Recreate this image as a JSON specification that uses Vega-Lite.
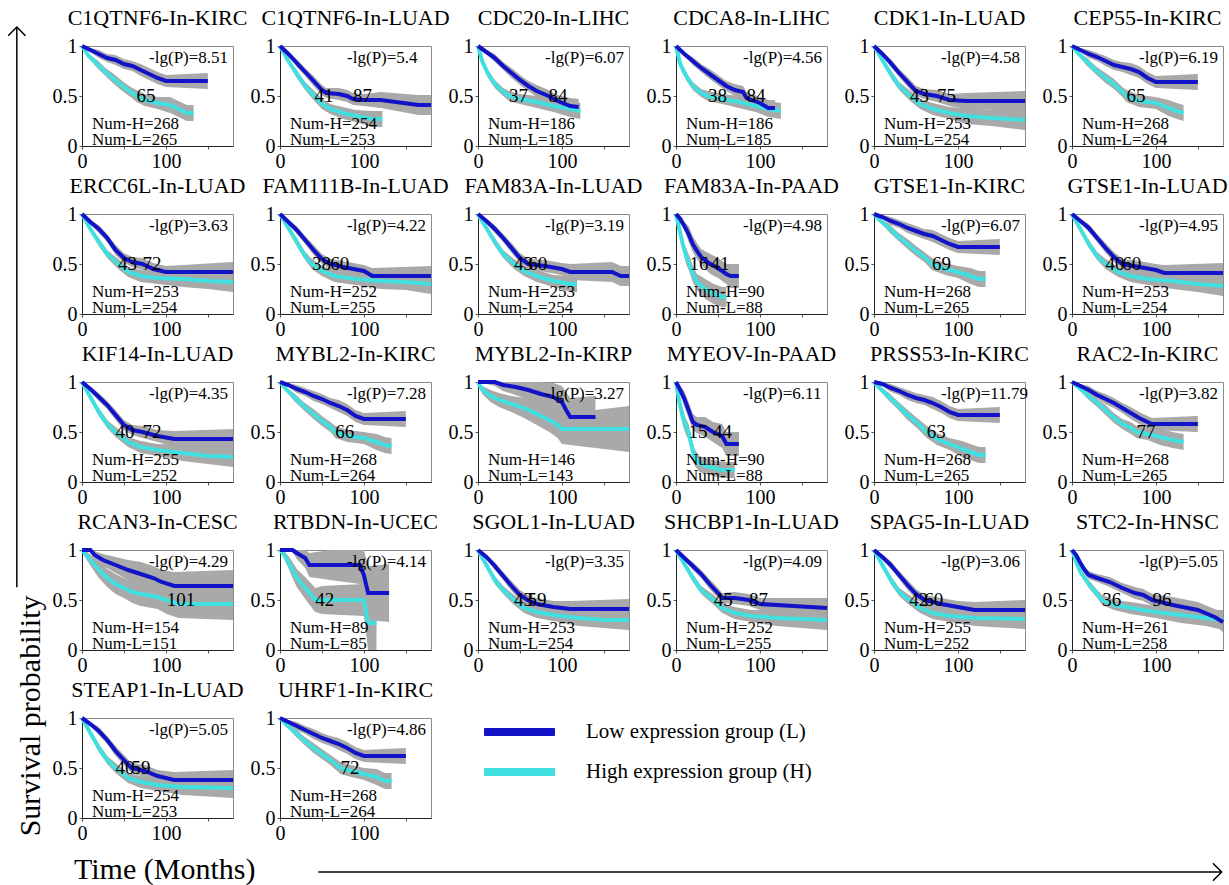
{
"$schema": "https://vega.github.io/schema/vega-lite/v6.json",
"padding": {"left": 0, "top": 6, "right": 0, "bottom": 0},
"background": "white",
"config": {"font": "Liberation Serif", "view": {"stroke": "#8a8a8a", "strokeWidth": 1},
 "axis": {"labelFont": "Liberation Serif", "labelFontSize": 20, "labelColor": "black", "domainColor": "#222", "tickColor": "#555", "grid": false, "labelFlush": false, "labelOverlap": false, "labelPadding": 2, "title": null}},
"datasets": {"km": [
{"p":"C1QTNF6-In-KIRC","lp":"-lg(P)=8.51","nh":"Num-H=268","nl":"Num-L=265"},
{"p":"C1QTNF6-In-KIRC","med":65},
{"p":"C1QTNF6-In-KIRC","g":"L","t":0,"s":1,"lo":1,"hi":1},
{"p":"C1QTNF6-In-KIRC","g":"L","t":10,"s":0.96,"lo":0.94,"hi":0.98},
{"p":"C1QTNF6-In-KIRC","g":"L","t":20,"s":0.92,"lo":0.88,"hi":0.96},
{"p":"C1QTNF6-In-KIRC","g":"L","t":30,"s":0.88,"lo":0.84,"hi":0.92},
{"p":"C1QTNF6-In-KIRC","g":"L","t":40,"s":0.86,"lo":0.81,"hi":0.91},
{"p":"C1QTNF6-In-KIRC","g":"L","t":50,"s":0.82,"lo":0.77,"hi":0.87},
{"p":"C1QTNF6-In-KIRC","g":"L","t":60,"s":0.8,"lo":0.75,"hi":0.85},
{"p":"C1QTNF6-In-KIRC","g":"L","t":70,"s":0.76,"lo":0.7,"hi":0.82},
{"p":"C1QTNF6-In-KIRC","g":"L","t":80,"s":0.72,"lo":0.66,"hi":0.78},
{"p":"C1QTNF6-In-KIRC","g":"L","t":90,"s":0.68,"lo":0.62,"hi":0.74},
{"p":"C1QTNF6-In-KIRC","g":"L","t":100,"s":0.65,"lo":0.59,"hi":0.71},
{"p":"C1QTNF6-In-KIRC","g":"L","t":150,"s":0.65,"lo":0.57,"hi":0.73},
{"p":"C1QTNF6-In-KIRC","g":"H","t":0,"s":1,"lo":1,"hi":1},
{"p":"C1QTNF6-In-KIRC","g":"H","t":8,"s":0.9,"lo":0.88,"hi":0.92},
{"p":"C1QTNF6-In-KIRC","g":"H","t":18,"s":0.82,"lo":0.78,"hi":0.86},
{"p":"C1QTNF6-In-KIRC","g":"H","t":28,"s":0.74,"lo":0.7,"hi":0.78},
{"p":"C1QTNF6-In-KIRC","g":"H","t":38,"s":0.67,"lo":0.62,"hi":0.72},
{"p":"C1QTNF6-In-KIRC","g":"H","t":48,"s":0.6,"lo":0.55,"hi":0.65},
{"p":"C1QTNF6-In-KIRC","g":"H","t":58,"s":0.54,"lo":0.49,"hi":0.59},
{"p":"C1QTNF6-In-KIRC","g":"H","t":65,"s":0.5,"lo":0.44,"hi":0.56},
{"p":"C1QTNF6-In-KIRC","g":"H","t":75,"s":0.46,"lo":0.4,"hi":0.52},
{"p":"C1QTNF6-In-KIRC","g":"H","t":90,"s":0.43,"lo":0.37,"hi":0.49},
{"p":"C1QTNF6-In-KIRC","g":"H","t":105,"s":0.41,"lo":0.33,"hi":0.49},
{"p":"C1QTNF6-In-KIRC","g":"H","t":115,"s":0.37,"lo":0.29,"hi":0.45},
{"p":"C1QTNF6-In-KIRC","g":"H","t":125,"s":0.33,"lo":0.25,"hi":0.41},
{"p":"C1QTNF6-In-KIRC","g":"H","t":133,"s":0.33,"lo":0.25,"hi":0.41},

{"p":"C1QTNF6-In-LUAD","lp":"-lg(P)=5.4","nh":"Num-H=254","nl":"Num-L=253"},
{"p":"C1QTNF6-In-LUAD","med":41},
{"p":"C1QTNF6-In-LUAD","med":87},
{"p":"C1QTNF6-In-LUAD","g":"L","t":0,"s":1,"lo":1,"hi":1},
{"p":"C1QTNF6-In-LUAD","g":"L","t":10,"s":0.92,"lo":0.9,"hi":0.94},
{"p":"C1QTNF6-In-LUAD","g":"L","t":20,"s":0.83,"lo":0.79,"hi":0.87},
{"p":"C1QTNF6-In-LUAD","g":"L","t":30,"s":0.74,"lo":0.7,"hi":0.78},
{"p":"C1QTNF6-In-LUAD","g":"L","t":40,"s":0.65,"lo":0.6,"hi":0.7},
{"p":"C1QTNF6-In-LUAD","g":"L","t":50,"s":0.56,"lo":0.51,"hi":0.61},
{"p":"C1QTNF6-In-LUAD","g":"L","t":55,"s":0.53,"lo":0.48,"hi":0.58},
{"p":"C1QTNF6-In-LUAD","g":"L","t":70,"s":0.52,"lo":0.46,"hi":0.58},
{"p":"C1QTNF6-In-LUAD","g":"L","t":80,"s":0.5,"lo":0.44,"hi":0.56},
{"p":"C1QTNF6-In-LUAD","g":"L","t":87,"s":0.47,"lo":0.41,"hi":0.53},
{"p":"C1QTNF6-In-LUAD","g":"L","t":100,"s":0.46,"lo":0.4,"hi":0.52},
{"p":"C1QTNF6-In-LUAD","g":"L","t":120,"s":0.46,"lo":0.38,"hi":0.54},
{"p":"C1QTNF6-In-LUAD","g":"L","t":165,"s":0.41,"lo":0.31,"hi":0.51},
{"p":"C1QTNF6-In-LUAD","g":"L","t":180,"s":0.41,"lo":0.31,"hi":0.51},
{"p":"C1QTNF6-In-LUAD","g":"H","t":0,"s":1,"lo":1,"hi":1},
{"p":"C1QTNF6-In-LUAD","g":"H","t":10,"s":0.85,"lo":0.83,"hi":0.87},
{"p":"C1QTNF6-In-LUAD","g":"H","t":20,"s":0.72,"lo":0.68,"hi":0.76},
{"p":"C1QTNF6-In-LUAD","g":"H","t":30,"s":0.6,"lo":0.56,"hi":0.64},
{"p":"C1QTNF6-In-LUAD","g":"H","t":41,"s":0.5,"lo":0.45,"hi":0.55},
{"p":"C1QTNF6-In-LUAD","g":"H","t":50,"s":0.42,"lo":0.37,"hi":0.47},
{"p":"C1QTNF6-In-LUAD","g":"H","t":60,"s":0.37,"lo":0.32,"hi":0.42},
{"p":"C1QTNF6-In-LUAD","g":"H","t":75,"s":0.33,"lo":0.27,"hi":0.39},
{"p":"C1QTNF6-In-LUAD","g":"H","t":90,"s":0.3,"lo":0.24,"hi":0.36},
{"p":"C1QTNF6-In-LUAD","g":"H","t":110,"s":0.27,"lo":0.19,"hi":0.35},
{"p":"C1QTNF6-In-LUAD","g":"H","t":122,"s":0.27,"lo":0.19,"hi":0.35},

{"p":"CDC20-In-LIHC","lp":"-lg(P)=6.07","nh":"Num-H=186","nl":"Num-L=185"},
{"p":"CDC20-In-LIHC","med":37},
{"p":"CDC20-In-LIHC","med":84},
{"p":"CDC20-In-LIHC","g":"L","t":0,"s":1,"lo":1,"hi":1},
{"p":"CDC20-In-LIHC","g":"L","t":10,"s":0.94,"lo":0.92,"hi":0.96},
{"p":"CDC20-In-LIHC","g":"L","t":20,"s":0.88,"lo":0.84,"hi":0.92},
{"p":"CDC20-In-LIHC","g":"L","t":30,"s":0.8,"lo":0.76,"hi":0.84},
{"p":"CDC20-In-LIHC","g":"L","t":40,"s":0.73,"lo":0.68,"hi":0.78},
{"p":"CDC20-In-LIHC","g":"L","t":50,"s":0.66,"lo":0.61,"hi":0.71},
{"p":"CDC20-In-LIHC","g":"L","t":60,"s":0.6,"lo":0.55,"hi":0.65},
{"p":"CDC20-In-LIHC","g":"L","t":70,"s":0.55,"lo":0.49,"hi":0.61},
{"p":"CDC20-In-LIHC","g":"L","t":84,"s":0.5,"lo":0.44,"hi":0.56},
{"p":"CDC20-In-LIHC","g":"L","t":95,"s":0.45,"lo":0.39,"hi":0.51},
{"p":"CDC20-In-LIHC","g":"L","t":110,"s":0.4,"lo":0.32,"hi":0.48},
{"p":"CDC20-In-LIHC","g":"L","t":120,"s":0.39,"lo":0.31,"hi":0.47},
{"p":"CDC20-In-LIHC","g":"H","t":0,"s":1,"lo":1,"hi":1},
{"p":"CDC20-In-LIHC","g":"H","t":5,"s":0.85,"lo":0.83,"hi":0.87},
{"p":"CDC20-In-LIHC","g":"H","t":12,"s":0.72,"lo":0.68,"hi":0.76},
{"p":"CDC20-In-LIHC","g":"H","t":20,"s":0.62,"lo":0.58,"hi":0.66},
{"p":"CDC20-In-LIHC","g":"H","t":30,"s":0.54,"lo":0.5,"hi":0.58},
{"p":"CDC20-In-LIHC","g":"H","t":37,"s":0.5,"lo":0.45,"hi":0.55},
{"p":"CDC20-In-LIHC","g":"H","t":50,"s":0.47,"lo":0.42,"hi":0.52},
{"p":"CDC20-In-LIHC","g":"H","t":70,"s":0.44,"lo":0.38,"hi":0.5},
{"p":"CDC20-In-LIHC","g":"H","t":90,"s":0.4,"lo":0.34,"hi":0.46},
{"p":"CDC20-In-LIHC","g":"H","t":110,"s":0.37,"lo":0.29,"hi":0.45},
{"p":"CDC20-In-LIHC","g":"H","t":122,"s":0.35,"lo":0.27,"hi":0.43},

{"p":"CDCA8-In-LIHC","lp":"-lg(P)=4.56","nh":"Num-H=186","nl":"Num-L=185"},
{"p":"CDCA8-In-LIHC","med":38},
{"p":"CDCA8-In-LIHC","med":84},
{"p":"CDCA8-In-LIHC","g":"L","t":0,"s":1,"lo":1,"hi":1},
{"p":"CDCA8-In-LIHC","g":"L","t":10,"s":0.92,"lo":0.9,"hi":0.94},
{"p":"CDCA8-In-LIHC","g":"L","t":20,"s":0.85,"lo":0.81,"hi":0.89},
{"p":"CDCA8-In-LIHC","g":"L","t":30,"s":0.78,"lo":0.74,"hi":0.82},
{"p":"CDCA8-In-LIHC","g":"L","t":40,"s":0.72,"lo":0.67,"hi":0.77},
{"p":"CDCA8-In-LIHC","g":"L","t":50,"s":0.66,"lo":0.61,"hi":0.71},
{"p":"CDCA8-In-LIHC","g":"L","t":60,"s":0.6,"lo":0.55,"hi":0.65},
{"p":"CDCA8-In-LIHC","g":"L","t":70,"s":0.56,"lo":0.5,"hi":0.62},
{"p":"CDCA8-In-LIHC","g":"L","t":80,"s":0.54,"lo":0.48,"hi":0.6},
{"p":"CDCA8-In-LIHC","g":"L","t":84,"s":0.48,"lo":0.42,"hi":0.54},
{"p":"CDCA8-In-LIHC","g":"L","t":100,"s":0.43,"lo":0.37,"hi":0.49},
{"p":"CDCA8-In-LIHC","g":"L","t":110,"s":0.38,"lo":0.3,"hi":0.46},
{"p":"CDCA8-In-LIHC","g":"L","t":118,"s":0.38,"lo":0.3,"hi":0.46},
{"p":"CDCA8-In-LIHC","g":"H","t":0,"s":1,"lo":1,"hi":1},
{"p":"CDCA8-In-LIHC","g":"H","t":5,"s":0.82,"lo":0.8,"hi":0.84},
{"p":"CDCA8-In-LIHC","g":"H","t":12,"s":0.7,"lo":0.66,"hi":0.74},
{"p":"CDCA8-In-LIHC","g":"H","t":20,"s":0.6,"lo":0.56,"hi":0.64},
{"p":"CDCA8-In-LIHC","g":"H","t":30,"s":0.53,"lo":0.49,"hi":0.57},
{"p":"CDCA8-In-LIHC","g":"H","t":38,"s":0.5,"lo":0.45,"hi":0.55},
{"p":"CDCA8-In-LIHC","g":"H","t":55,"s":0.47,"lo":0.42,"hi":0.52},
{"p":"CDCA8-In-LIHC","g":"H","t":75,"s":0.44,"lo":0.38,"hi":0.5},
{"p":"CDCA8-In-LIHC","g":"H","t":95,"s":0.4,"lo":0.34,"hi":0.46},
{"p":"CDCA8-In-LIHC","g":"H","t":110,"s":0.37,"lo":0.29,"hi":0.45},
{"p":"CDCA8-In-LIHC","g":"H","t":125,"s":0.35,"lo":0.27,"hi":0.43},

{"p":"CDK1-In-LUAD","lp":"-lg(P)=4.58","nh":"Num-H=253","nl":"Num-L=254"},
{"p":"CDK1-In-LUAD","med":43},
{"p":"CDK1-In-LUAD","med":75},
{"p":"CDK1-In-LUAD","g":"L","t":0,"s":1,"lo":1,"hi":1},
{"p":"CDK1-In-LUAD","g":"L","t":10,"s":0.92,"lo":0.9,"hi":0.94},
{"p":"CDK1-In-LUAD","g":"L","t":20,"s":0.83,"lo":0.79,"hi":0.87},
{"p":"CDK1-In-LUAD","g":"L","t":30,"s":0.73,"lo":0.69,"hi":0.77},
{"p":"CDK1-In-LUAD","g":"L","t":40,"s":0.64,"lo":0.59,"hi":0.69},
{"p":"CDK1-In-LUAD","g":"L","t":50,"s":0.55,"lo":0.5,"hi":0.6},
{"p":"CDK1-In-LUAD","g":"L","t":60,"s":0.52,"lo":0.47,"hi":0.57},
{"p":"CDK1-In-LUAD","g":"L","t":75,"s":0.5,"lo":0.44,"hi":0.56},
{"p":"CDK1-In-LUAD","g":"L","t":90,"s":0.46,"lo":0.4,"hi":0.52},
{"p":"CDK1-In-LUAD","g":"L","t":110,"s":0.45,"lo":0.37,"hi":0.53},
{"p":"CDK1-In-LUAD","g":"L","t":180,"s":0.45,"lo":0.35,"hi":0.55},
{"p":"CDK1-In-LUAD","g":"H","t":0,"s":1,"lo":1,"hi":1},
{"p":"CDK1-In-LUAD","g":"H","t":10,"s":0.86,"lo":0.84,"hi":0.88},
{"p":"CDK1-In-LUAD","g":"H","t":20,"s":0.72,"lo":0.68,"hi":0.76},
{"p":"CDK1-In-LUAD","g":"H","t":30,"s":0.6,"lo":0.56,"hi":0.64},
{"p":"CDK1-In-LUAD","g":"H","t":43,"s":0.5,"lo":0.45,"hi":0.55},
{"p":"CDK1-In-LUAD","g":"H","t":55,"s":0.42,"lo":0.37,"hi":0.47},
{"p":"CDK1-In-LUAD","g":"H","t":70,"s":0.37,"lo":0.31,"hi":0.43},
{"p":"CDK1-In-LUAD","g":"H","t":90,"s":0.33,"lo":0.27,"hi":0.39},
{"p":"CDK1-In-LUAD","g":"H","t":110,"s":0.3,"lo":0.22,"hi":0.38},
{"p":"CDK1-In-LUAD","g":"H","t":140,"s":0.28,"lo":0.2,"hi":0.36},
{"p":"CDK1-In-LUAD","g":"H","t":180,"s":0.26,"lo":0.16,"hi":0.36},

{"p":"CEP55-In-KIRC","lp":"-lg(P)=6.19","nh":"Num-H=268","nl":"Num-L=264"},
{"p":"CEP55-In-KIRC","med":65},
{"p":"CEP55-In-KIRC","g":"L","t":0,"s":1,"lo":1,"hi":1},
{"p":"CEP55-In-KIRC","g":"L","t":10,"s":0.96,"lo":0.94,"hi":0.98},
{"p":"CEP55-In-KIRC","g":"L","t":20,"s":0.92,"lo":0.88,"hi":0.96},
{"p":"CEP55-In-KIRC","g":"L","t":30,"s":0.89,"lo":0.85,"hi":0.93},
{"p":"CEP55-In-KIRC","g":"L","t":40,"s":0.85,"lo":0.8,"hi":0.9},
{"p":"CEP55-In-KIRC","g":"L","t":50,"s":0.81,"lo":0.76,"hi":0.86},
{"p":"CEP55-In-KIRC","g":"L","t":60,"s":0.79,"lo":0.74,"hi":0.84},
{"p":"CEP55-In-KIRC","g":"L","t":70,"s":0.77,"lo":0.71,"hi":0.83},
{"p":"CEP55-In-KIRC","g":"L","t":80,"s":0.74,"lo":0.68,"hi":0.8},
{"p":"CEP55-In-KIRC","g":"L","t":90,"s":0.68,"lo":0.62,"hi":0.74},
{"p":"CEP55-In-KIRC","g":"L","t":100,"s":0.64,"lo":0.58,"hi":0.7},
{"p":"CEP55-In-KIRC","g":"L","t":150,"s":0.64,"lo":0.56,"hi":0.72},
{"p":"CEP55-In-KIRC","g":"H","t":0,"s":1,"lo":1,"hi":1},
{"p":"CEP55-In-KIRC","g":"H","t":8,"s":0.92,"lo":0.9,"hi":0.94},
{"p":"CEP55-In-KIRC","g":"H","t":18,"s":0.84,"lo":0.8,"hi":0.88},
{"p":"CEP55-In-KIRC","g":"H","t":28,"s":0.76,"lo":0.72,"hi":0.8},
{"p":"CEP55-In-KIRC","g":"H","t":40,"s":0.68,"lo":0.63,"hi":0.73},
{"p":"CEP55-In-KIRC","g":"H","t":50,"s":0.62,"lo":0.57,"hi":0.67},
{"p":"CEP55-In-KIRC","g":"H","t":60,"s":0.54,"lo":0.49,"hi":0.59},
{"p":"CEP55-In-KIRC","g":"H","t":65,"s":0.5,"lo":0.44,"hi":0.56},
{"p":"CEP55-In-KIRC","g":"H","t":80,"s":0.45,"lo":0.39,"hi":0.51},
{"p":"CEP55-In-KIRC","g":"H","t":100,"s":0.43,"lo":0.37,"hi":0.49},
{"p":"CEP55-In-KIRC","g":"H","t":115,"s":0.38,"lo":0.3,"hi":0.46},
{"p":"CEP55-In-KIRC","g":"H","t":125,"s":0.35,"lo":0.27,"hi":0.43},
{"p":"CEP55-In-KIRC","g":"H","t":133,"s":0.33,"lo":0.25,"hi":0.41},

{"p":"ERCC6L-In-LUAD","lp":"-lg(P)=3.63","nh":"Num-H=253","nl":"Num-L=254"},
{"p":"ERCC6L-In-LUAD","med":43},
{"p":"ERCC6L-In-LUAD","med":72},
{"p":"ERCC6L-In-LUAD","g":"L","t":0,"s":1,"lo":1,"hi":1},
{"p":"ERCC6L-In-LUAD","g":"L","t":10,"s":0.92,"lo":0.9,"hi":0.94},
{"p":"ERCC6L-In-LUAD","g":"L","t":20,"s":0.85,"lo":0.81,"hi":0.89},
{"p":"ERCC6L-In-LUAD","g":"L","t":30,"s":0.76,"lo":0.72,"hi":0.8},
{"p":"ERCC6L-In-LUAD","g":"L","t":40,"s":0.64,"lo":0.59,"hi":0.69},
{"p":"ERCC6L-In-LUAD","g":"L","t":50,"s":0.56,"lo":0.51,"hi":0.61},
{"p":"ERCC6L-In-LUAD","g":"L","t":60,"s":0.52,"lo":0.47,"hi":0.57},
{"p":"ERCC6L-In-LUAD","g":"L","t":72,"s":0.5,"lo":0.44,"hi":0.56},
{"p":"ERCC6L-In-LUAD","g":"L","t":85,"s":0.45,"lo":0.39,"hi":0.51},
{"p":"ERCC6L-In-LUAD","g":"L","t":100,"s":0.42,"lo":0.36,"hi":0.48},
{"p":"ERCC6L-In-LUAD","g":"L","t":180,"s":0.42,"lo":0.32,"hi":0.52},
{"p":"ERCC6L-In-LUAD","g":"H","t":0,"s":1,"lo":1,"hi":1},
{"p":"ERCC6L-In-LUAD","g":"H","t":10,"s":0.85,"lo":0.83,"hi":0.87},
{"p":"ERCC6L-In-LUAD","g":"H","t":20,"s":0.72,"lo":0.68,"hi":0.76},
{"p":"ERCC6L-In-LUAD","g":"H","t":30,"s":0.6,"lo":0.56,"hi":0.64},
{"p":"ERCC6L-In-LUAD","g":"H","t":43,"s":0.5,"lo":0.45,"hi":0.55},
{"p":"ERCC6L-In-LUAD","g":"H","t":55,"s":0.42,"lo":0.37,"hi":0.47},
{"p":"ERCC6L-In-LUAD","g":"H","t":70,"s":0.38,"lo":0.32,"hi":0.44},
{"p":"ERCC6L-In-LUAD","g":"H","t":90,"s":0.36,"lo":0.3,"hi":0.42},
{"p":"ERCC6L-In-LUAD","g":"H","t":120,"s":0.35,"lo":0.27,"hi":0.43},
{"p":"ERCC6L-In-LUAD","g":"H","t":150,"s":0.33,"lo":0.25,"hi":0.41},
{"p":"ERCC6L-In-LUAD","g":"H","t":180,"s":0.32,"lo":0.22,"hi":0.42},

{"p":"FAM111B-In-LUAD","lp":"-lg(P)=4.22","nh":"Num-H=252","nl":"Num-L=255"},
{"p":"FAM111B-In-LUAD","med":38},
{"p":"FAM111B-In-LUAD","med":60},
{"p":"FAM111B-In-LUAD","g":"L","t":0,"s":1,"lo":1,"hi":1},
{"p":"FAM111B-In-LUAD","g":"L","t":10,"s":0.92,"lo":0.9,"hi":0.94},
{"p":"FAM111B-In-LUAD","g":"L","t":20,"s":0.84,"lo":0.8,"hi":0.88},
{"p":"FAM111B-In-LUAD","g":"L","t":30,"s":0.74,"lo":0.7,"hi":0.78},
{"p":"FAM111B-In-LUAD","g":"L","t":40,"s":0.64,"lo":0.59,"hi":0.69},
{"p":"FAM111B-In-LUAD","g":"L","t":50,"s":0.55,"lo":0.5,"hi":0.6},
{"p":"FAM111B-In-LUAD","g":"L","t":60,"s":0.5,"lo":0.45,"hi":0.55},
{"p":"FAM111B-In-LUAD","g":"L","t":75,"s":0.47,"lo":0.41,"hi":0.53},
{"p":"FAM111B-In-LUAD","g":"L","t":100,"s":0.43,"lo":0.37,"hi":0.49},
{"p":"FAM111B-In-LUAD","g":"L","t":110,"s":0.38,"lo":0.3,"hi":0.46},
{"p":"FAM111B-In-LUAD","g":"L","t":180,"s":0.38,"lo":0.28,"hi":0.48},
{"p":"FAM111B-In-LUAD","g":"H","t":0,"s":1,"lo":1,"hi":1},
{"p":"FAM111B-In-LUAD","g":"H","t":10,"s":0.86,"lo":0.84,"hi":0.88},
{"p":"FAM111B-In-LUAD","g":"H","t":20,"s":0.72,"lo":0.68,"hi":0.76},
{"p":"FAM111B-In-LUAD","g":"H","t":30,"s":0.58,"lo":0.54,"hi":0.62},
{"p":"FAM111B-In-LUAD","g":"H","t":38,"s":0.5,"lo":0.45,"hi":0.55},
{"p":"FAM111B-In-LUAD","g":"H","t":50,"s":0.43,"lo":0.38,"hi":0.48},
{"p":"FAM111B-In-LUAD","g":"H","t":65,"s":0.38,"lo":0.32,"hi":0.44},
{"p":"FAM111B-In-LUAD","g":"H","t":90,"s":0.35,"lo":0.29,"hi":0.41},
{"p":"FAM111B-In-LUAD","g":"H","t":120,"s":0.33,"lo":0.25,"hi":0.41},
{"p":"FAM111B-In-LUAD","g":"H","t":150,"s":0.32,"lo":0.24,"hi":0.4},
{"p":"FAM111B-In-LUAD","g":"H","t":180,"s":0.3,"lo":0.2,"hi":0.4},

{"p":"FAM83A-In-LUAD","lp":"-lg(P)=3.19","nh":"Num-H=253","nl":"Num-L=254"},
{"p":"FAM83A-In-LUAD","med":43},
{"p":"FAM83A-In-LUAD","med":60},
{"p":"FAM83A-In-LUAD","g":"L","t":0,"s":1,"lo":1,"hi":1},
{"p":"FAM83A-In-LUAD","g":"L","t":10,"s":0.93,"lo":0.91,"hi":0.95},
{"p":"FAM83A-In-LUAD","g":"L","t":20,"s":0.85,"lo":0.81,"hi":0.89},
{"p":"FAM83A-In-LUAD","g":"L","t":30,"s":0.76,"lo":0.72,"hi":0.8},
{"p":"FAM83A-In-LUAD","g":"L","t":40,"s":0.66,"lo":0.61,"hi":0.71},
{"p":"FAM83A-In-LUAD","g":"L","t":50,"s":0.56,"lo":0.51,"hi":0.61},
{"p":"FAM83A-In-LUAD","g":"L","t":60,"s":0.5,"lo":0.45,"hi":0.55},
{"p":"FAM83A-In-LUAD","g":"L","t":80,"s":0.48,"lo":0.42,"hi":0.54},
{"p":"FAM83A-In-LUAD","g":"L","t":100,"s":0.45,"lo":0.39,"hi":0.51},
{"p":"FAM83A-In-LUAD","g":"L","t":110,"s":0.42,"lo":0.34,"hi":0.5},
{"p":"FAM83A-In-LUAD","g":"L","t":160,"s":0.42,"lo":0.32,"hi":0.52},
{"p":"FAM83A-In-LUAD","g":"L","t":170,"s":0.38,"lo":0.28,"hi":0.48},
{"p":"FAM83A-In-LUAD","g":"L","t":180,"s":0.38,"lo":0.28,"hi":0.48},
{"p":"FAM83A-In-LUAD","g":"H","t":0,"s":1,"lo":1,"hi":1},
{"p":"FAM83A-In-LUAD","g":"H","t":10,"s":0.86,"lo":0.84,"hi":0.88},
{"p":"FAM83A-In-LUAD","g":"H","t":20,"s":0.72,"lo":0.68,"hi":0.76},
{"p":"FAM83A-In-LUAD","g":"H","t":30,"s":0.6,"lo":0.56,"hi":0.64},
{"p":"FAM83A-In-LUAD","g":"H","t":43,"s":0.5,"lo":0.45,"hi":0.55},
{"p":"FAM83A-In-LUAD","g":"H","t":55,"s":0.43,"lo":0.38,"hi":0.48},
{"p":"FAM83A-In-LUAD","g":"H","t":70,"s":0.38,"lo":0.32,"hi":0.44},
{"p":"FAM83A-In-LUAD","g":"H","t":90,"s":0.33,"lo":0.27,"hi":0.39},
{"p":"FAM83A-In-LUAD","g":"H","t":110,"s":0.3,"lo":0.22,"hi":0.38},
{"p":"FAM83A-In-LUAD","g":"H","t":118,"s":0.3,"lo":0.22,"hi":0.38},

{"p":"FAM83A-In-PAAD","lp":"-lg(P)=4.98","nh":"Num-H=90","nl":"Num-L=88"},
{"p":"FAM83A-In-PAAD","med":16},
{"p":"FAM83A-In-PAAD","med":41},
{"p":"FAM83A-In-PAAD","g":"L","t":0,"s":1,"lo":1,"hi":1},
{"p":"FAM83A-In-PAAD","g":"L","t":5,"s":0.95,"lo":0.91,"hi":0.99},
{"p":"FAM83A-In-PAAD","g":"L","t":10,"s":0.88,"lo":0.84,"hi":0.92},
{"p":"FAM83A-In-PAAD","g":"L","t":15,"s":0.8,"lo":0.72,"hi":0.88},
{"p":"FAM83A-In-PAAD","g":"L","t":20,"s":0.7,"lo":0.62,"hi":0.78},
{"p":"FAM83A-In-PAAD","g":"L","t":25,"s":0.63,"lo":0.55,"hi":0.71},
{"p":"FAM83A-In-PAAD","g":"L","t":30,"s":0.57,"lo":0.49,"hi":0.65},
{"p":"FAM83A-In-PAAD","g":"L","t":41,"s":0.5,"lo":0.4,"hi":0.6},
{"p":"FAM83A-In-PAAD","g":"L","t":50,"s":0.46,"lo":0.36,"hi":0.56},
{"p":"FAM83A-In-PAAD","g":"L","t":60,"s":0.4,"lo":0.3,"hi":0.5},
{"p":"FAM83A-In-PAAD","g":"L","t":65,"s":0.38,"lo":0.26,"hi":0.5},
{"p":"FAM83A-In-PAAD","g":"L","t":75,"s":0.38,"lo":0.26,"hi":0.5},
{"p":"FAM83A-In-PAAD","g":"H","t":0,"s":1,"lo":1,"hi":1},
{"p":"FAM83A-In-PAAD","g":"H","t":4,"s":0.85,"lo":0.81,"hi":0.89},
{"p":"FAM83A-In-PAAD","g":"H","t":8,"s":0.7,"lo":0.66,"hi":0.74},
{"p":"FAM83A-In-PAAD","g":"H","t":12,"s":0.58,"lo":0.5,"hi":0.66},
{"p":"FAM83A-In-PAAD","g":"H","t":16,"s":0.5,"lo":0.42,"hi":0.58},
{"p":"FAM83A-In-PAAD","g":"H","t":20,"s":0.4,"lo":0.32,"hi":0.48},
{"p":"FAM83A-In-PAAD","g":"H","t":25,"s":0.32,"lo":0.24,"hi":0.4},
{"p":"FAM83A-In-PAAD","g":"H","t":35,"s":0.25,"lo":0.15,"hi":0.35},
{"p":"FAM83A-In-PAAD","g":"H","t":45,"s":0.2,"lo":0.1,"hi":0.3},
{"p":"FAM83A-In-PAAD","g":"H","t":55,"s":0.17,"lo":0.07,"hi":0.27},
{"p":"FAM83A-In-PAAD","g":"H","t":60,"s":0.17,"lo":0.07,"hi":0.27},

{"p":"GTSE1-In-KIRC","lp":"-lg(P)=6.07","nh":"Num-H=268","nl":"Num-L=265"},
{"p":"GTSE1-In-KIRC","med":69},
{"p":"GTSE1-In-KIRC","g":"L","t":0,"s":1,"lo":1,"hi":1},
{"p":"GTSE1-In-KIRC","g":"L","t":10,"s":0.97,"lo":0.95,"hi":0.99},
{"p":"GTSE1-In-KIRC","g":"L","t":20,"s":0.93,"lo":0.89,"hi":0.97},
{"p":"GTSE1-In-KIRC","g":"L","t":30,"s":0.9,"lo":0.86,"hi":0.94},
{"p":"GTSE1-In-KIRC","g":"L","t":40,"s":0.86,"lo":0.81,"hi":0.91},
{"p":"GTSE1-In-KIRC","g":"L","t":50,"s":0.83,"lo":0.78,"hi":0.88},
{"p":"GTSE1-In-KIRC","g":"L","t":60,"s":0.8,"lo":0.75,"hi":0.85},
{"p":"GTSE1-In-KIRC","g":"L","t":70,"s":0.78,"lo":0.72,"hi":0.84},
{"p":"GTSE1-In-KIRC","g":"L","t":80,"s":0.74,"lo":0.68,"hi":0.8},
{"p":"GTSE1-In-KIRC","g":"L","t":90,"s":0.7,"lo":0.64,"hi":0.76},
{"p":"GTSE1-In-KIRC","g":"L","t":100,"s":0.67,"lo":0.61,"hi":0.73},
{"p":"GTSE1-In-KIRC","g":"L","t":150,"s":0.67,"lo":0.59,"hi":0.75},
{"p":"GTSE1-In-KIRC","g":"H","t":0,"s":1,"lo":1,"hi":1},
{"p":"GTSE1-In-KIRC","g":"H","t":8,"s":0.93,"lo":0.91,"hi":0.95},
{"p":"GTSE1-In-KIRC","g":"H","t":18,"s":0.86,"lo":0.82,"hi":0.9},
{"p":"GTSE1-In-KIRC","g":"H","t":28,"s":0.78,"lo":0.74,"hi":0.82},
{"p":"GTSE1-In-KIRC","g":"H","t":40,"s":0.7,"lo":0.65,"hi":0.75},
{"p":"GTSE1-In-KIRC","g":"H","t":50,"s":0.63,"lo":0.58,"hi":0.68},
{"p":"GTSE1-In-KIRC","g":"H","t":60,"s":0.57,"lo":0.52,"hi":0.62},
{"p":"GTSE1-In-KIRC","g":"H","t":69,"s":0.5,"lo":0.44,"hi":0.56},
{"p":"GTSE1-In-KIRC","g":"H","t":85,"s":0.45,"lo":0.39,"hi":0.51},
{"p":"GTSE1-In-KIRC","g":"H","t":100,"s":0.42,"lo":0.36,"hi":0.48},
{"p":"GTSE1-In-KIRC","g":"H","t":115,"s":0.38,"lo":0.3,"hi":0.46},
{"p":"GTSE1-In-KIRC","g":"H","t":125,"s":0.35,"lo":0.27,"hi":0.43},
{"p":"GTSE1-In-KIRC","g":"H","t":133,"s":0.35,"lo":0.27,"hi":0.43},

{"p":"GTSE1-In-LUAD","lp":"-lg(P)=4.95","nh":"Num-H=253","nl":"Num-L=254"},
{"p":"GTSE1-In-LUAD","med":40},
{"p":"GTSE1-In-LUAD","med":60},
{"p":"GTSE1-In-LUAD","g":"L","t":0,"s":1,"lo":1,"hi":1},
{"p":"GTSE1-In-LUAD","g":"L","t":10,"s":0.93,"lo":0.91,"hi":0.95},
{"p":"GTSE1-In-LUAD","g":"L","t":20,"s":0.86,"lo":0.82,"hi":0.9},
{"p":"GTSE1-In-LUAD","g":"L","t":30,"s":0.76,"lo":0.72,"hi":0.8},
{"p":"GTSE1-In-LUAD","g":"L","t":40,"s":0.66,"lo":0.61,"hi":0.71},
{"p":"GTSE1-In-LUAD","g":"L","t":50,"s":0.57,"lo":0.52,"hi":0.62},
{"p":"GTSE1-In-LUAD","g":"L","t":60,"s":0.5,"lo":0.45,"hi":0.55},
{"p":"GTSE1-In-LUAD","g":"L","t":80,"s":0.47,"lo":0.41,"hi":0.53},
{"p":"GTSE1-In-LUAD","g":"L","t":100,"s":0.44,"lo":0.38,"hi":0.5},
{"p":"GTSE1-In-LUAD","g":"L","t":110,"s":0.41,"lo":0.33,"hi":0.49},
{"p":"GTSE1-In-LUAD","g":"L","t":180,"s":0.41,"lo":0.31,"hi":0.51},
{"p":"GTSE1-In-LUAD","g":"H","t":0,"s":1,"lo":1,"hi":1},
{"p":"GTSE1-In-LUAD","g":"H","t":10,"s":0.85,"lo":0.83,"hi":0.87},
{"p":"GTSE1-In-LUAD","g":"H","t":20,"s":0.7,"lo":0.66,"hi":0.74},
{"p":"GTSE1-In-LUAD","g":"H","t":30,"s":0.58,"lo":0.54,"hi":0.62},
{"p":"GTSE1-In-LUAD","g":"H","t":40,"s":0.5,"lo":0.45,"hi":0.55},
{"p":"GTSE1-In-LUAD","g":"H","t":55,"s":0.42,"lo":0.37,"hi":0.47},
{"p":"GTSE1-In-LUAD","g":"H","t":70,"s":0.38,"lo":0.32,"hi":0.44},
{"p":"GTSE1-In-LUAD","g":"H","t":90,"s":0.35,"lo":0.29,"hi":0.41},
{"p":"GTSE1-In-LUAD","g":"H","t":120,"s":0.33,"lo":0.25,"hi":0.41},
{"p":"GTSE1-In-LUAD","g":"H","t":150,"s":0.3,"lo":0.22,"hi":0.38},
{"p":"GTSE1-In-LUAD","g":"H","t":180,"s":0.28,"lo":0.18,"hi":0.38},

{"p":"KIF14-In-LUAD","lp":"-lg(P)=4.35","nh":"Num-H=255","nl":"Num-L=252"},
{"p":"KIF14-In-LUAD","med":40},
{"p":"KIF14-In-LUAD","med":72},
{"p":"KIF14-In-LUAD","g":"L","t":0,"s":1,"lo":1,"hi":1},
{"p":"KIF14-In-LUAD","g":"L","t":10,"s":0.93,"lo":0.91,"hi":0.95},
{"p":"KIF14-In-LUAD","g":"L","t":20,"s":0.85,"lo":0.81,"hi":0.89},
{"p":"KIF14-In-LUAD","g":"L","t":30,"s":0.77,"lo":0.73,"hi":0.81},
{"p":"KIF14-In-LUAD","g":"L","t":40,"s":0.67,"lo":0.62,"hi":0.72},
{"p":"KIF14-In-LUAD","g":"L","t":50,"s":0.57,"lo":0.52,"hi":0.62},
{"p":"KIF14-In-LUAD","g":"L","t":60,"s":0.52,"lo":0.47,"hi":0.57},
{"p":"KIF14-In-LUAD","g":"L","t":72,"s":0.5,"lo":0.44,"hi":0.56},
{"p":"KIF14-In-LUAD","g":"L","t":90,"s":0.46,"lo":0.4,"hi":0.52},
{"p":"KIF14-In-LUAD","g":"L","t":110,"s":0.43,"lo":0.35,"hi":0.51},
{"p":"KIF14-In-LUAD","g":"L","t":180,"s":0.43,"lo":0.33,"hi":0.53},
{"p":"KIF14-In-LUAD","g":"H","t":0,"s":1,"lo":1,"hi":1},
{"p":"KIF14-In-LUAD","g":"H","t":10,"s":0.85,"lo":0.83,"hi":0.87},
{"p":"KIF14-In-LUAD","g":"H","t":20,"s":0.7,"lo":0.66,"hi":0.74},
{"p":"KIF14-In-LUAD","g":"H","t":30,"s":0.58,"lo":0.54,"hi":0.62},
{"p":"KIF14-In-LUAD","g":"H","t":40,"s":0.5,"lo":0.45,"hi":0.55},
{"p":"KIF14-In-LUAD","g":"H","t":55,"s":0.4,"lo":0.35,"hi":0.45},
{"p":"KIF14-In-LUAD","g":"H","t":70,"s":0.35,"lo":0.29,"hi":0.41},
{"p":"KIF14-In-LUAD","g":"H","t":90,"s":0.32,"lo":0.26,"hi":0.38},
{"p":"KIF14-In-LUAD","g":"H","t":120,"s":0.29,"lo":0.21,"hi":0.37},
{"p":"KIF14-In-LUAD","g":"H","t":150,"s":0.26,"lo":0.18,"hi":0.34},
{"p":"KIF14-In-LUAD","g":"H","t":180,"s":0.25,"lo":0.15,"hi":0.35},

{"p":"MYBL2-In-KIRC","lp":"-lg(P)=7.28","nh":"Num-H=268","nl":"Num-L=264"},
{"p":"MYBL2-In-KIRC","med":66},
{"p":"MYBL2-In-KIRC","g":"L","t":0,"s":1,"lo":1,"hi":1},
{"p":"MYBL2-In-KIRC","g":"L","t":10,"s":0.97,"lo":0.95,"hi":0.99},
{"p":"MYBL2-In-KIRC","g":"L","t":20,"s":0.93,"lo":0.89,"hi":0.97},
{"p":"MYBL2-In-KIRC","g":"L","t":30,"s":0.9,"lo":0.86,"hi":0.94},
{"p":"MYBL2-In-KIRC","g":"L","t":40,"s":0.86,"lo":0.81,"hi":0.91},
{"p":"MYBL2-In-KIRC","g":"L","t":50,"s":0.83,"lo":0.78,"hi":0.88},
{"p":"MYBL2-In-KIRC","g":"L","t":60,"s":0.79,"lo":0.74,"hi":0.84},
{"p":"MYBL2-In-KIRC","g":"L","t":70,"s":0.76,"lo":0.7,"hi":0.82},
{"p":"MYBL2-In-KIRC","g":"L","t":80,"s":0.72,"lo":0.66,"hi":0.78},
{"p":"MYBL2-In-KIRC","g":"L","t":90,"s":0.66,"lo":0.6,"hi":0.72},
{"p":"MYBL2-In-KIRC","g":"L","t":100,"s":0.63,"lo":0.57,"hi":0.69},
{"p":"MYBL2-In-KIRC","g":"L","t":150,"s":0.63,"lo":0.55,"hi":0.71},
{"p":"MYBL2-In-KIRC","g":"H","t":0,"s":1,"lo":1,"hi":1},
{"p":"MYBL2-In-KIRC","g":"H","t":8,"s":0.92,"lo":0.9,"hi":0.94},
{"p":"MYBL2-In-KIRC","g":"H","t":18,"s":0.84,"lo":0.8,"hi":0.88},
{"p":"MYBL2-In-KIRC","g":"H","t":28,"s":0.76,"lo":0.72,"hi":0.8},
{"p":"MYBL2-In-KIRC","g":"H","t":40,"s":0.68,"lo":0.63,"hi":0.73},
{"p":"MYBL2-In-KIRC","g":"H","t":50,"s":0.61,"lo":0.56,"hi":0.66},
{"p":"MYBL2-In-KIRC","g":"H","t":60,"s":0.55,"lo":0.5,"hi":0.6},
{"p":"MYBL2-In-KIRC","g":"H","t":66,"s":0.5,"lo":0.44,"hi":0.56},
{"p":"MYBL2-In-KIRC","g":"H","t":80,"s":0.46,"lo":0.4,"hi":0.52},
{"p":"MYBL2-In-KIRC","g":"H","t":100,"s":0.44,"lo":0.38,"hi":0.5},
{"p":"MYBL2-In-KIRC","g":"H","t":115,"s":0.4,"lo":0.32,"hi":0.48},
{"p":"MYBL2-In-KIRC","g":"H","t":125,"s":0.37,"lo":0.29,"hi":0.45},
{"p":"MYBL2-In-KIRC","g":"H","t":133,"s":0.36,"lo":0.28,"hi":0.44},

{"p":"MYBL2-In-KIRP","lp":"-lg(P)=3.27","nh":"Num-H=146","nl":"Num-L=143"},
{"p":"MYBL2-In-KIRP","g":"L","t":0,"s":1,"lo":1,"hi":1},
{"p":"MYBL2-In-KIRP","g":"L","t":20,"s":1,"lo":0.96,"hi":1},
{"p":"MYBL2-In-KIRP","g":"L","t":30,"s":0.97,"lo":0.91,"hi":1},
{"p":"MYBL2-In-KIRP","g":"L","t":45,"s":0.95,"lo":0.87,"hi":1},
{"p":"MYBL2-In-KIRP","g":"L","t":60,"s":0.92,"lo":0.82,"hi":1},
{"p":"MYBL2-In-KIRP","g":"L","t":75,"s":0.88,"lo":0.76,"hi":1},
{"p":"MYBL2-In-KIRP","g":"L","t":90,"s":0.85,"lo":0.71,"hi":0.99},
{"p":"MYBL2-In-KIRP","g":"L","t":100,"s":0.8,"lo":0.64,"hi":0.96},
{"p":"MYBL2-In-KIRP","g":"L","t":105,"s":0.72,"lo":0.54,"hi":0.9},
{"p":"MYBL2-In-KIRP","g":"L","t":110,"s":0.65,"lo":0.46,"hi":0.84},
{"p":"MYBL2-In-KIRP","g":"L","t":140,"s":0.65,"lo":0.44,"hi":0.86},
{"p":"MYBL2-In-KIRP","g":"H","t":0,"s":1,"lo":1,"hi":1},
{"p":"MYBL2-In-KIRP","g":"H","t":5,"s":0.92,"lo":0.88,"hi":0.96},
{"p":"MYBL2-In-KIRP","g":"H","t":15,"s":0.86,"lo":0.8,"hi":0.92},
{"p":"MYBL2-In-KIRP","g":"H","t":25,"s":0.82,"lo":0.75,"hi":0.89},
{"p":"MYBL2-In-KIRP","g":"H","t":40,"s":0.78,"lo":0.7,"hi":0.86},
{"p":"MYBL2-In-KIRP","g":"H","t":55,"s":0.74,"lo":0.64,"hi":0.84},
{"p":"MYBL2-In-KIRP","g":"H","t":70,"s":0.68,"lo":0.57,"hi":0.79},
{"p":"MYBL2-In-KIRP","g":"H","t":85,"s":0.62,"lo":0.5,"hi":0.74},
{"p":"MYBL2-In-KIRP","g":"H","t":95,"s":0.57,"lo":0.44,"hi":0.7},
{"p":"MYBL2-In-KIRP","g":"H","t":100,"s":0.53,"lo":0.38,"hi":0.68},
{"p":"MYBL2-In-KIRP","g":"H","t":140,"s":0.53,"lo":0.34,"hi":0.72},
{"p":"MYBL2-In-KIRP","g":"H","t":180,"s":0.53,"lo":0.3,"hi":0.76},

{"p":"MYEOV-In-PAAD","lp":"-lg(P)=6.11","nh":"Num-H=90","nl":"Num-L=88"},
{"p":"MYEOV-In-PAAD","med":15},
{"p":"MYEOV-In-PAAD","med":44},
{"p":"MYEOV-In-PAAD","g":"L","t":0,"s":1,"lo":1,"hi":1},
{"p":"MYEOV-In-PAAD","g":"L","t":5,"s":0.92,"lo":0.88,"hi":0.96},
{"p":"MYEOV-In-PAAD","g":"L","t":10,"s":0.83,"lo":0.75,"hi":0.91},
{"p":"MYEOV-In-PAAD","g":"L","t":15,"s":0.72,"lo":0.64,"hi":0.8},
{"p":"MYEOV-In-PAAD","g":"L","t":20,"s":0.6,"lo":0.52,"hi":0.68},
{"p":"MYEOV-In-PAAD","g":"L","t":25,"s":0.57,"lo":0.49,"hi":0.65},
{"p":"MYEOV-In-PAAD","g":"L","t":35,"s":0.55,"lo":0.45,"hi":0.65},
{"p":"MYEOV-In-PAAD","g":"L","t":44,"s":0.5,"lo":0.4,"hi":0.6},
{"p":"MYEOV-In-PAAD","g":"L","t":55,"s":0.46,"lo":0.34,"hi":0.58},
{"p":"MYEOV-In-PAAD","g":"L","t":60,"s":0.38,"lo":0.26,"hi":0.5},
{"p":"MYEOV-In-PAAD","g":"L","t":75,"s":0.38,"lo":0.26,"hi":0.5},
{"p":"MYEOV-In-PAAD","g":"H","t":0,"s":1,"lo":1,"hi":1},
{"p":"MYEOV-In-PAAD","g":"H","t":4,"s":0.8,"lo":0.74,"hi":0.86},
{"p":"MYEOV-In-PAAD","g":"H","t":8,"s":0.65,"lo":0.57,"hi":0.73},
{"p":"MYEOV-In-PAAD","g":"H","t":12,"s":0.55,"lo":0.47,"hi":0.63},
{"p":"MYEOV-In-PAAD","g":"H","t":15,"s":0.5,"lo":0.42,"hi":0.58},
{"p":"MYEOV-In-PAAD","g":"H","t":18,"s":0.38,"lo":0.3,"hi":0.46},
{"p":"MYEOV-In-PAAD","g":"H","t":22,"s":0.25,"lo":0.17,"hi":0.33},
{"p":"MYEOV-In-PAAD","g":"H","t":28,"s":0.18,"lo":0.1,"hi":0.26},
{"p":"MYEOV-In-PAAD","g":"H","t":40,"s":0.15,"lo":0.07,"hi":0.23},
{"p":"MYEOV-In-PAAD","g":"H","t":55,"s":0.12,"lo":0.04,"hi":0.2},
{"p":"MYEOV-In-PAAD","g":"H","t":70,"s":0.12,"lo":0.04,"hi":0.2},

{"p":"PRSS53-In-KIRC","lp":"-lg(P)=11.79","nh":"Num-H=268","nl":"Num-L=265"},
{"p":"PRSS53-In-KIRC","med":63},
{"p":"PRSS53-In-KIRC","g":"L","t":0,"s":1,"lo":1,"hi":1},
{"p":"PRSS53-In-KIRC","g":"L","t":10,"s":0.98,"lo":0.96,"hi":1},
{"p":"PRSS53-In-KIRC","g":"L","t":20,"s":0.94,"lo":0.9,"hi":0.98},
{"p":"PRSS53-In-KIRC","g":"L","t":30,"s":0.91,"lo":0.87,"hi":0.95},
{"p":"PRSS53-In-KIRC","g":"L","t":40,"s":0.87,"lo":0.82,"hi":0.92},
{"p":"PRSS53-In-KIRC","g":"L","t":50,"s":0.84,"lo":0.79,"hi":0.89},
{"p":"PRSS53-In-KIRC","g":"L","t":60,"s":0.82,"lo":0.77,"hi":0.87},
{"p":"PRSS53-In-KIRC","g":"L","t":70,"s":0.79,"lo":0.73,"hi":0.85},
{"p":"PRSS53-In-KIRC","g":"L","t":80,"s":0.75,"lo":0.69,"hi":0.81},
{"p":"PRSS53-In-KIRC","g":"L","t":90,"s":0.7,"lo":0.64,"hi":0.76},
{"p":"PRSS53-In-KIRC","g":"L","t":100,"s":0.67,"lo":0.61,"hi":0.73},
{"p":"PRSS53-In-KIRC","g":"L","t":150,"s":0.67,"lo":0.59,"hi":0.75},
{"p":"PRSS53-In-KIRC","g":"H","t":0,"s":1,"lo":1,"hi":1},
{"p":"PRSS53-In-KIRC","g":"H","t":8,"s":0.93,"lo":0.91,"hi":0.95},
{"p":"PRSS53-In-KIRC","g":"H","t":18,"s":0.85,"lo":0.81,"hi":0.89},
{"p":"PRSS53-In-KIRC","g":"H","t":28,"s":0.77,"lo":0.73,"hi":0.81},
{"p":"PRSS53-In-KIRC","g":"H","t":40,"s":0.67,"lo":0.62,"hi":0.72},
{"p":"PRSS53-In-KIRC","g":"H","t":50,"s":0.6,"lo":0.55,"hi":0.65},
{"p":"PRSS53-In-KIRC","g":"H","t":63,"s":0.5,"lo":0.44,"hi":0.56},
{"p":"PRSS53-In-KIRC","g":"H","t":75,"s":0.43,"lo":0.37,"hi":0.49},
{"p":"PRSS53-In-KIRC","g":"H","t":90,"s":0.38,"lo":0.32,"hi":0.44},
{"p":"PRSS53-In-KIRC","g":"H","t":105,"s":0.33,"lo":0.25,"hi":0.41},
{"p":"PRSS53-In-KIRC","g":"H","t":115,"s":0.3,"lo":0.22,"hi":0.38},
{"p":"PRSS53-In-KIRC","g":"H","t":125,"s":0.27,"lo":0.19,"hi":0.35},
{"p":"PRSS53-In-KIRC","g":"H","t":133,"s":0.27,"lo":0.19,"hi":0.35},

{"p":"RAC2-In-KIRC","lp":"-lg(P)=3.82","nh":"Num-H=268","nl":"Num-L=265"},
{"p":"RAC2-In-KIRC","med":77},
{"p":"RAC2-In-KIRC","g":"L","t":0,"s":1,"lo":1,"hi":1},
{"p":"RAC2-In-KIRC","g":"L","t":10,"s":0.96,"lo":0.94,"hi":0.98},
{"p":"RAC2-In-KIRC","g":"L","t":20,"s":0.92,"lo":0.88,"hi":0.96},
{"p":"RAC2-In-KIRC","g":"L","t":30,"s":0.87,"lo":0.83,"hi":0.91},
{"p":"RAC2-In-KIRC","g":"L","t":40,"s":0.83,"lo":0.78,"hi":0.88},
{"p":"RAC2-In-KIRC","g":"L","t":50,"s":0.79,"lo":0.74,"hi":0.84},
{"p":"RAC2-In-KIRC","g":"L","t":60,"s":0.74,"lo":0.69,"hi":0.79},
{"p":"RAC2-In-KIRC","g":"L","t":70,"s":0.69,"lo":0.63,"hi":0.75},
{"p":"RAC2-In-KIRC","g":"L","t":80,"s":0.64,"lo":0.58,"hi":0.7},
{"p":"RAC2-In-KIRC","g":"L","t":90,"s":0.6,"lo":0.54,"hi":0.66},
{"p":"RAC2-In-KIRC","g":"L","t":95,"s":0.58,"lo":0.52,"hi":0.64},
{"p":"RAC2-In-KIRC","g":"L","t":150,"s":0.58,"lo":0.5,"hi":0.66},
{"p":"RAC2-In-KIRC","g":"H","t":0,"s":1,"lo":1,"hi":1},
{"p":"RAC2-In-KIRC","g":"H","t":10,"s":0.93,"lo":0.91,"hi":0.95},
{"p":"RAC2-In-KIRC","g":"H","t":20,"s":0.86,"lo":0.82,"hi":0.9},
{"p":"RAC2-In-KIRC","g":"H","t":30,"s":0.79,"lo":0.75,"hi":0.83},
{"p":"RAC2-In-KIRC","g":"H","t":40,"s":0.72,"lo":0.67,"hi":0.77},
{"p":"RAC2-In-KIRC","g":"H","t":50,"s":0.64,"lo":0.59,"hi":0.69},
{"p":"RAC2-In-KIRC","g":"H","t":60,"s":0.58,"lo":0.53,"hi":0.63},
{"p":"RAC2-In-KIRC","g":"H","t":70,"s":0.54,"lo":0.48,"hi":0.6},
{"p":"RAC2-In-KIRC","g":"H","t":77,"s":0.5,"lo":0.44,"hi":0.56},
{"p":"RAC2-In-KIRC","g":"H","t":90,"s":0.48,"lo":0.42,"hi":0.54},
{"p":"RAC2-In-KIRC","g":"H","t":105,"s":0.45,"lo":0.37,"hi":0.53},
{"p":"RAC2-In-KIRC","g":"H","t":120,"s":0.42,"lo":0.34,"hi":0.5},
{"p":"RAC2-In-KIRC","g":"H","t":133,"s":0.4,"lo":0.32,"hi":0.48},

{"p":"RCAN3-In-CESC","lp":"-lg(P)=4.29","nh":"Num-H=154","nl":"Num-L=151"},
{"p":"RCAN3-In-CESC","med":101},
{"p":"RCAN3-In-CESC","g":"L","t":0,"s":1,"lo":1,"hi":1},
{"p":"RCAN3-In-CESC","g":"L","t":10,"s":1,"lo":0.98,"hi":1},
{"p":"RCAN3-In-CESC","g":"L","t":15,"s":0.95,"lo":0.91,"hi":0.99},
{"p":"RCAN3-In-CESC","g":"L","t":25,"s":0.9,"lo":0.84,"hi":0.96},
{"p":"RCAN3-In-CESC","g":"L","t":40,"s":0.85,"lo":0.77,"hi":0.93},
{"p":"RCAN3-In-CESC","g":"L","t":55,"s":0.8,"lo":0.7,"hi":0.9},
{"p":"RCAN3-In-CESC","g":"L","t":70,"s":0.76,"lo":0.64,"hi":0.88},
{"p":"RCAN3-In-CESC","g":"L","t":85,"s":0.72,"lo":0.6,"hi":0.84},
{"p":"RCAN3-In-CESC","g":"L","t":95,"s":0.68,"lo":0.56,"hi":0.8},
{"p":"RCAN3-In-CESC","g":"L","t":110,"s":0.64,"lo":0.5,"hi":0.78},
{"p":"RCAN3-In-CESC","g":"L","t":180,"s":0.64,"lo":0.48,"hi":0.8},
{"p":"RCAN3-In-CESC","g":"H","t":0,"s":1,"lo":1,"hi":1},
{"p":"RCAN3-In-CESC","g":"H","t":5,"s":0.95,"lo":0.91,"hi":0.99},
{"p":"RCAN3-In-CESC","g":"H","t":12,"s":0.88,"lo":0.82,"hi":0.94},
{"p":"RCAN3-In-CESC","g":"H","t":20,"s":0.8,"lo":0.72,"hi":0.88},
{"p":"RCAN3-In-CESC","g":"H","t":30,"s":0.72,"lo":0.63,"hi":0.81},
{"p":"RCAN3-In-CESC","g":"H","t":40,"s":0.66,"lo":0.56,"hi":0.76},
{"p":"RCAN3-In-CESC","g":"H","t":50,"s":0.62,"lo":0.52,"hi":0.72},
{"p":"RCAN3-In-CESC","g":"H","t":60,"s":0.58,"lo":0.47,"hi":0.69},
{"p":"RCAN3-In-CESC","g":"H","t":70,"s":0.56,"lo":0.44,"hi":0.68},
{"p":"RCAN3-In-CESC","g":"H","t":90,"s":0.53,"lo":0.41,"hi":0.65},
{"p":"RCAN3-In-CESC","g":"H","t":101,"s":0.5,"lo":0.36,"hi":0.64},
{"p":"RCAN3-In-CESC","g":"H","t":115,"s":0.46,"lo":0.32,"hi":0.6},
{"p":"RCAN3-In-CESC","g":"H","t":180,"s":0.46,"lo":0.3,"hi":0.62},

{"p":"RTBDN-In-UCEC","lp":"-lg(P)=4.14","nh":"Num-H=89","nl":"Num-L=85"},
{"p":"RTBDN-In-UCEC","med":42},
{"p":"RTBDN-In-UCEC","g":"L","t":0,"s":1,"lo":1,"hi":1},
{"p":"RTBDN-In-UCEC","g":"L","t":15,"s":1,"lo":0.98,"hi":1},
{"p":"RTBDN-In-UCEC","g":"L","t":20,"s":0.97,"lo":0.91,"hi":1},
{"p":"RTBDN-In-UCEC","g":"L","t":30,"s":0.92,"lo":0.82,"hi":1},
{"p":"RTBDN-In-UCEC","g":"L","t":35,"s":0.85,"lo":0.73,"hi":0.97},
{"p":"RTBDN-In-UCEC","g":"L","t":60,"s":0.85,"lo":0.7,"hi":1},
{"p":"RTBDN-In-UCEC","g":"L","t":95,"s":0.85,"lo":0.66,"hi":1},
{"p":"RTBDN-In-UCEC","g":"L","t":100,"s":0.75,"lo":0.5,"hi":1},
{"p":"RTBDN-In-UCEC","g":"L","t":105,"s":0.57,"lo":0.3,"hi":0.84},
{"p":"RTBDN-In-UCEC","g":"L","t":130,"s":0.57,"lo":0.28,"hi":0.86},
{"p":"RTBDN-In-UCEC","g":"H","t":0,"s":1,"lo":1,"hi":1},
{"p":"RTBDN-In-UCEC","g":"H","t":5,"s":0.95,"lo":0.91,"hi":0.99},
{"p":"RTBDN-In-UCEC","g":"H","t":10,"s":0.88,"lo":0.82,"hi":0.94},
{"p":"RTBDN-In-UCEC","g":"H","t":15,"s":0.8,"lo":0.72,"hi":0.88},
{"p":"RTBDN-In-UCEC","g":"H","t":20,"s":0.72,"lo":0.63,"hi":0.81},
{"p":"RTBDN-In-UCEC","g":"H","t":30,"s":0.62,"lo":0.51,"hi":0.73},
{"p":"RTBDN-In-UCEC","g":"H","t":40,"s":0.52,"lo":0.4,"hi":0.64},
{"p":"RTBDN-In-UCEC","g":"H","t":42,"s":0.5,"lo":0.38,"hi":0.62},
{"p":"RTBDN-In-UCEC","g":"H","t":50,"s":0.5,"lo":0.36,"hi":0.64},
{"p":"RTBDN-In-UCEC","g":"H","t":100,"s":0.5,"lo":0.34,"hi":0.66},
{"p":"RTBDN-In-UCEC","g":"H","t":105,"s":0.27,"lo":0,"hi":0.75},
{"p":"RTBDN-In-UCEC","g":"H","t":115,"s":0.27,"lo":0,"hi":0.8},

{"p":"SGOL1-In-LUAD","lp":"-lg(P)=3.35","nh":"Num-H=253","nl":"Num-L=254"},
{"p":"SGOL1-In-LUAD","med":43},
{"p":"SGOL1-In-LUAD","med":59},
{"p":"SGOL1-In-LUAD","g":"L","t":0,"s":1,"lo":1,"hi":1},
{"p":"SGOL1-In-LUAD","g":"L","t":10,"s":0.93,"lo":0.91,"hi":0.95},
{"p":"SGOL1-In-LUAD","g":"L","t":20,"s":0.84,"lo":0.8,"hi":0.88},
{"p":"SGOL1-In-LUAD","g":"L","t":30,"s":0.74,"lo":0.7,"hi":0.78},
{"p":"SGOL1-In-LUAD","g":"L","t":40,"s":0.64,"lo":0.59,"hi":0.69},
{"p":"SGOL1-In-LUAD","g":"L","t":50,"s":0.55,"lo":0.5,"hi":0.6},
{"p":"SGOL1-In-LUAD","g":"L","t":59,"s":0.5,"lo":0.45,"hi":0.55},
{"p":"SGOL1-In-LUAD","g":"L","t":70,"s":0.46,"lo":0.4,"hi":0.52},
{"p":"SGOL1-In-LUAD","g":"L","t":90,"s":0.43,"lo":0.37,"hi":0.49},
{"p":"SGOL1-In-LUAD","g":"L","t":110,"s":0.41,"lo":0.33,"hi":0.49},
{"p":"SGOL1-In-LUAD","g":"L","t":180,"s":0.41,"lo":0.31,"hi":0.51},
{"p":"SGOL1-In-LUAD","g":"H","t":0,"s":1,"lo":1,"hi":1},
{"p":"SGOL1-In-LUAD","g":"H","t":10,"s":0.85,"lo":0.83,"hi":0.87},
{"p":"SGOL1-In-LUAD","g":"H","t":20,"s":0.7,"lo":0.66,"hi":0.74},
{"p":"SGOL1-In-LUAD","g":"H","t":30,"s":0.6,"lo":0.56,"hi":0.64},
{"p":"SGOL1-In-LUAD","g":"H","t":43,"s":0.5,"lo":0.45,"hi":0.55},
{"p":"SGOL1-In-LUAD","g":"H","t":55,"s":0.42,"lo":0.37,"hi":0.47},
{"p":"SGOL1-In-LUAD","g":"H","t":70,"s":0.38,"lo":0.32,"hi":0.44},
{"p":"SGOL1-In-LUAD","g":"H","t":90,"s":0.35,"lo":0.29,"hi":0.41},
{"p":"SGOL1-In-LUAD","g":"H","t":120,"s":0.32,"lo":0.24,"hi":0.4},
{"p":"SGOL1-In-LUAD","g":"H","t":150,"s":0.3,"lo":0.22,"hi":0.38},
{"p":"SGOL1-In-LUAD","g":"H","t":180,"s":0.3,"lo":0.2,"hi":0.4},

{"p":"SHCBP1-In-LUAD","lp":"-lg(P)=4.09","nh":"Num-H=252","nl":"Num-L=255"},
{"p":"SHCBP1-In-LUAD","med":45},
{"p":"SHCBP1-In-LUAD","med":87},
{"p":"SHCBP1-In-LUAD","g":"L","t":0,"s":1,"lo":1,"hi":1},
{"p":"SHCBP1-In-LUAD","g":"L","t":10,"s":0.92,"lo":0.9,"hi":0.94},
{"p":"SHCBP1-In-LUAD","g":"L","t":20,"s":0.84,"lo":0.8,"hi":0.88},
{"p":"SHCBP1-In-LUAD","g":"L","t":30,"s":0.76,"lo":0.72,"hi":0.8},
{"p":"SHCBP1-In-LUAD","g":"L","t":40,"s":0.66,"lo":0.61,"hi":0.71},
{"p":"SHCBP1-In-LUAD","g":"L","t":50,"s":0.57,"lo":0.52,"hi":0.62},
{"p":"SHCBP1-In-LUAD","g":"L","t":55,"s":0.52,"lo":0.47,"hi":0.57},
{"p":"SHCBP1-In-LUAD","g":"L","t":70,"s":0.52,"lo":0.46,"hi":0.58},
{"p":"SHCBP1-In-LUAD","g":"L","t":87,"s":0.5,"lo":0.44,"hi":0.56},
{"p":"SHCBP1-In-LUAD","g":"L","t":100,"s":0.46,"lo":0.4,"hi":0.52},
{"p":"SHCBP1-In-LUAD","g":"L","t":140,"s":0.44,"lo":0.36,"hi":0.52},
{"p":"SHCBP1-In-LUAD","g":"L","t":180,"s":0.42,"lo":0.32,"hi":0.52},
{"p":"SHCBP1-In-LUAD","g":"H","t":0,"s":1,"lo":1,"hi":1},
{"p":"SHCBP1-In-LUAD","g":"H","t":10,"s":0.86,"lo":0.84,"hi":0.88},
{"p":"SHCBP1-In-LUAD","g":"H","t":20,"s":0.72,"lo":0.68,"hi":0.76},
{"p":"SHCBP1-In-LUAD","g":"H","t":30,"s":0.6,"lo":0.56,"hi":0.64},
{"p":"SHCBP1-In-LUAD","g":"H","t":45,"s":0.5,"lo":0.45,"hi":0.55},
{"p":"SHCBP1-In-LUAD","g":"H","t":55,"s":0.42,"lo":0.37,"hi":0.47},
{"p":"SHCBP1-In-LUAD","g":"H","t":70,"s":0.37,"lo":0.31,"hi":0.43},
{"p":"SHCBP1-In-LUAD","g":"H","t":90,"s":0.34,"lo":0.28,"hi":0.4},
{"p":"SHCBP1-In-LUAD","g":"H","t":120,"s":0.32,"lo":0.24,"hi":0.4},
{"p":"SHCBP1-In-LUAD","g":"H","t":180,"s":0.3,"lo":0.2,"hi":0.4},

{"p":"SPAG5-In-LUAD","lp":"-lg(P)=3.06","nh":"Num-H=255","nl":"Num-L=252"},
{"p":"SPAG5-In-LUAD","med":42},
{"p":"SPAG5-In-LUAD","med":60},
{"p":"SPAG5-In-LUAD","g":"L","t":0,"s":1,"lo":1,"hi":1},
{"p":"SPAG5-In-LUAD","g":"L","t":10,"s":0.93,"lo":0.91,"hi":0.95},
{"p":"SPAG5-In-LUAD","g":"L","t":20,"s":0.85,"lo":0.81,"hi":0.89},
{"p":"SPAG5-In-LUAD","g":"L","t":30,"s":0.75,"lo":0.71,"hi":0.79},
{"p":"SPAG5-In-LUAD","g":"L","t":40,"s":0.65,"lo":0.6,"hi":0.7},
{"p":"SPAG5-In-LUAD","g":"L","t":50,"s":0.56,"lo":0.51,"hi":0.61},
{"p":"SPAG5-In-LUAD","g":"L","t":60,"s":0.5,"lo":0.45,"hi":0.55},
{"p":"SPAG5-In-LUAD","g":"L","t":80,"s":0.46,"lo":0.4,"hi":0.52},
{"p":"SPAG5-In-LUAD","g":"L","t":100,"s":0.43,"lo":0.37,"hi":0.49},
{"p":"SPAG5-In-LUAD","g":"L","t":120,"s":0.4,"lo":0.32,"hi":0.48},
{"p":"SPAG5-In-LUAD","g":"L","t":180,"s":0.4,"lo":0.3,"hi":0.5},
{"p":"SPAG5-In-LUAD","g":"H","t":0,"s":1,"lo":1,"hi":1},
{"p":"SPAG5-In-LUAD","g":"H","t":10,"s":0.85,"lo":0.83,"hi":0.87},
{"p":"SPAG5-In-LUAD","g":"H","t":20,"s":0.7,"lo":0.66,"hi":0.74},
{"p":"SPAG5-In-LUAD","g":"H","t":30,"s":0.58,"lo":0.54,"hi":0.62},
{"p":"SPAG5-In-LUAD","g":"H","t":42,"s":0.5,"lo":0.45,"hi":0.55},
{"p":"SPAG5-In-LUAD","g":"H","t":55,"s":0.42,"lo":0.37,"hi":0.47},
{"p":"SPAG5-In-LUAD","g":"H","t":70,"s":0.37,"lo":0.31,"hi":0.43},
{"p":"SPAG5-In-LUAD","g":"H","t":90,"s":0.34,"lo":0.28,"hi":0.4},
{"p":"SPAG5-In-LUAD","g":"H","t":120,"s":0.32,"lo":0.24,"hi":0.4},
{"p":"SPAG5-In-LUAD","g":"H","t":180,"s":0.31,"lo":0.21,"hi":0.41},

{"p":"STC2-In-HNSC","lp":"-lg(P)=5.05","nh":"Num-H=261","nl":"Num-L=258"},
{"p":"STC2-In-HNSC","med":36},
{"p":"STC2-In-HNSC","med":96},
{"p":"STC2-In-HNSC","g":"L","t":0,"s":1,"lo":1,"hi":1},
{"p":"STC2-In-HNSC","g":"L","t":5,"s":0.95,"lo":0.93,"hi":0.97},
{"p":"STC2-In-HNSC","g":"L","t":10,"s":0.87,"lo":0.85,"hi":0.89},
{"p":"STC2-In-HNSC","g":"L","t":15,"s":0.8,"lo":0.76,"hi":0.84},
{"p":"STC2-In-HNSC","g":"L","t":20,"s":0.75,"lo":0.71,"hi":0.79},
{"p":"STC2-In-HNSC","g":"L","t":30,"s":0.72,"lo":0.68,"hi":0.76},
{"p":"STC2-In-HNSC","g":"L","t":45,"s":0.68,"lo":0.63,"hi":0.73},
{"p":"STC2-In-HNSC","g":"L","t":60,"s":0.62,"lo":0.57,"hi":0.67},
{"p":"STC2-In-HNSC","g":"L","t":75,"s":0.57,"lo":0.51,"hi":0.63},
{"p":"STC2-In-HNSC","g":"L","t":85,"s":0.55,"lo":0.49,"hi":0.61},
{"p":"STC2-In-HNSC","g":"L","t":96,"s":0.5,"lo":0.44,"hi":0.56},
{"p":"STC2-In-HNSC","g":"L","t":120,"s":0.45,"lo":0.37,"hi":0.53},
{"p":"STC2-In-HNSC","g":"L","t":150,"s":0.4,"lo":0.32,"hi":0.48},
{"p":"STC2-In-HNSC","g":"L","t":170,"s":0.33,"lo":0.25,"hi":0.41},
{"p":"STC2-In-HNSC","g":"L","t":180,"s":0.28,"lo":0.18,"hi":0.38},
{"p":"STC2-In-HNSC","g":"H","t":0,"s":1,"lo":1,"hi":1},
{"p":"STC2-In-HNSC","g":"H","t":5,"s":0.88,"lo":0.86,"hi":0.9},
{"p":"STC2-In-HNSC","g":"H","t":10,"s":0.78,"lo":0.76,"hi":0.8},
{"p":"STC2-In-HNSC","g":"H","t":20,"s":0.66,"lo":0.62,"hi":0.7},
{"p":"STC2-In-HNSC","g":"H","t":30,"s":0.56,"lo":0.52,"hi":0.6},
{"p":"STC2-In-HNSC","g":"H","t":36,"s":0.5,"lo":0.45,"hi":0.55},
{"p":"STC2-In-HNSC","g":"H","t":50,"s":0.45,"lo":0.4,"hi":0.5},
{"p":"STC2-In-HNSC","g":"H","t":70,"s":0.42,"lo":0.36,"hi":0.48},
{"p":"STC2-In-HNSC","g":"H","t":100,"s":0.38,"lo":0.32,"hi":0.44},
{"p":"STC2-In-HNSC","g":"H","t":130,"s":0.35,"lo":0.27,"hi":0.43},
{"p":"STC2-In-HNSC","g":"H","t":160,"s":0.32,"lo":0.24,"hi":0.4},
{"p":"STC2-In-HNSC","g":"H","t":180,"s":0.3,"lo":0.2,"hi":0.4},

{"p":"STEAP1-In-LUAD","lp":"-lg(P)=5.05","nh":"Num-H=254","nl":"Num-L=253"},
{"p":"STEAP1-In-LUAD","med":40},
{"p":"STEAP1-In-LUAD","med":59},
{"p":"STEAP1-In-LUAD","g":"L","t":0,"s":1,"lo":1,"hi":1},
{"p":"STEAP1-In-LUAD","g":"L","t":10,"s":0.94,"lo":0.92,"hi":0.96},
{"p":"STEAP1-In-LUAD","g":"L","t":20,"s":0.87,"lo":0.83,"hi":0.91},
{"p":"STEAP1-In-LUAD","g":"L","t":30,"s":0.78,"lo":0.74,"hi":0.82},
{"p":"STEAP1-In-LUAD","g":"L","t":40,"s":0.67,"lo":0.62,"hi":0.72},
{"p":"STEAP1-In-LUAD","g":"L","t":50,"s":0.58,"lo":0.53,"hi":0.63},
{"p":"STEAP1-In-LUAD","g":"L","t":59,"s":0.5,"lo":0.45,"hi":0.55},
{"p":"STEAP1-In-LUAD","g":"L","t":75,"s":0.47,"lo":0.41,"hi":0.53},
{"p":"STEAP1-In-LUAD","g":"L","t":90,"s":0.42,"lo":0.36,"hi":0.48},
{"p":"STEAP1-In-LUAD","g":"L","t":110,"s":0.38,"lo":0.3,"hi":0.46},
{"p":"STEAP1-In-LUAD","g":"L","t":180,"s":0.38,"lo":0.28,"hi":0.48},
{"p":"STEAP1-In-LUAD","g":"H","t":0,"s":1,"lo":1,"hi":1},
{"p":"STEAP1-In-LUAD","g":"H","t":10,"s":0.85,"lo":0.83,"hi":0.87},
{"p":"STEAP1-In-LUAD","g":"H","t":20,"s":0.7,"lo":0.66,"hi":0.74},
{"p":"STEAP1-In-LUAD","g":"H","t":30,"s":0.58,"lo":0.54,"hi":0.62},
{"p":"STEAP1-In-LUAD","g":"H","t":40,"s":0.5,"lo":0.45,"hi":0.55},
{"p":"STEAP1-In-LUAD","g":"H","t":55,"s":0.4,"lo":0.35,"hi":0.45},
{"p":"STEAP1-In-LUAD","g":"H","t":70,"s":0.36,"lo":0.3,"hi":0.42},
{"p":"STEAP1-In-LUAD","g":"H","t":90,"s":0.33,"lo":0.27,"hi":0.39},
{"p":"STEAP1-In-LUAD","g":"H","t":120,"s":0.31,"lo":0.23,"hi":0.39},
{"p":"STEAP1-In-LUAD","g":"H","t":180,"s":0.3,"lo":0.2,"hi":0.4},

{"p":"UHRF1-In-KIRC","lp":"-lg(P)=4.86","nh":"Num-H=268","nl":"Num-L=264"},
{"p":"UHRF1-In-KIRC","med":72},
{"p":"UHRF1-In-KIRC","g":"L","t":0,"s":1,"lo":1,"hi":1},
{"p":"UHRF1-In-KIRC","g":"L","t":10,"s":0.96,"lo":0.94,"hi":0.98},
{"p":"UHRF1-In-KIRC","g":"L","t":20,"s":0.92,"lo":0.88,"hi":0.96},
{"p":"UHRF1-In-KIRC","g":"L","t":30,"s":0.88,"lo":0.84,"hi":0.92},
{"p":"UHRF1-In-KIRC","g":"L","t":40,"s":0.84,"lo":0.79,"hi":0.89},
{"p":"UHRF1-In-KIRC","g":"L","t":50,"s":0.8,"lo":0.75,"hi":0.85},
{"p":"UHRF1-In-KIRC","g":"L","t":60,"s":0.77,"lo":0.72,"hi":0.82},
{"p":"UHRF1-In-KIRC","g":"L","t":70,"s":0.74,"lo":0.68,"hi":0.8},
{"p":"UHRF1-In-KIRC","g":"L","t":80,"s":0.7,"lo":0.64,"hi":0.76},
{"p":"UHRF1-In-KIRC","g":"L","t":90,"s":0.65,"lo":0.59,"hi":0.71},
{"p":"UHRF1-In-KIRC","g":"L","t":100,"s":0.62,"lo":0.56,"hi":0.68},
{"p":"UHRF1-In-KIRC","g":"L","t":150,"s":0.62,"lo":0.54,"hi":0.7},
{"p":"UHRF1-In-KIRC","g":"H","t":0,"s":1,"lo":1,"hi":1},
{"p":"UHRF1-In-KIRC","g":"H","t":8,"s":0.93,"lo":0.91,"hi":0.95},
{"p":"UHRF1-In-KIRC","g":"H","t":18,"s":0.86,"lo":0.82,"hi":0.9},
{"p":"UHRF1-In-KIRC","g":"H","t":28,"s":0.78,"lo":0.74,"hi":0.82},
{"p":"UHRF1-In-KIRC","g":"H","t":40,"s":0.7,"lo":0.65,"hi":0.75},
{"p":"UHRF1-In-KIRC","g":"H","t":50,"s":0.64,"lo":0.59,"hi":0.69},
{"p":"UHRF1-In-KIRC","g":"H","t":60,"s":0.58,"lo":0.53,"hi":0.63},
{"p":"UHRF1-In-KIRC","g":"H","t":72,"s":0.5,"lo":0.44,"hi":0.56},
{"p":"UHRF1-In-KIRC","g":"H","t":85,"s":0.47,"lo":0.41,"hi":0.53},
{"p":"UHRF1-In-KIRC","g":"H","t":100,"s":0.44,"lo":0.38,"hi":0.5},
{"p":"UHRF1-In-KIRC","g":"H","t":115,"s":0.41,"lo":0.33,"hi":0.49},
{"p":"UHRF1-In-KIRC","g":"H","t":125,"s":0.37,"lo":0.29,"hi":0.45},
{"p":"UHRF1-In-KIRC","g":"H","t":133,"s":0.37,"lo":0.29,"hi":0.45}
]},
"vconcat": [
 {"hconcat": [
  {"width": 51, "height": 790, "view": {"stroke": null},
   "data": {"values": [{"lab": "Survival probability"}]},
   "layer": [
    {"mark": {"type": "rule", "color": "black", "strokeWidth": 1.5},
     "encoding": {"x": {"datum": 0.33, "type": "quantitative", "scale": {"domain": [0, 1]}, "axis": null},
                  "y": {"datum": 0.315, "type": "quantitative", "scale": {"domain": [0, 1]}, "axis": null},
                  "y2": {"datum": 1.024}}},
    {"mark": {"type": "point", "shape": "M-1,1L0,0L1,1", "filled": false, "color": "black", "strokeWidth": 1.5, "size": 300, "opacity": 1},
     "encoding": {"x": {"datum": 0.33, "type": "quantitative"}, "y": {"datum": 1.024, "type": "quantitative"}}},
    {"mark": {"type": "text", "angle": 270, "fontSize": 30, "align": "center", "baseline": "middle", "color": "black"},
     "encoding": {"x": {"datum": 0.6, "type": "quantitative"}, "y": {"datum": 0.152, "type": "quantitative"}, "text": {"field": "lab"}}}
   ]},
  {"data": {"name": "km"},
   "facet": {"field": "p", "type": "nominal", "header": {"title": null, "labelFontSize": 22, "labelFont": "Liberation Serif", "labelColor": "black", "labelPadding": 6}},
   "columns": 6,
   "spacing": {"row": 68, "column": 47},
   "bounds": "flush",
   "resolve": {"axis": {"x": "independent", "y": "independent"}},
   "spec": {
    "width": 151, "height": 100,
    "layer": [
     {"transform": [{"filter": "isValid(datum.g)"}],
      "mark": {"type": "area", "color": "#a9a9a9", "opacity": 1},
      "encoding": {
       "x": {"field": "t", "type": "quantitative", "scale": {"domain": [0, 180]},
             "axis": {"values": [0, 50, 100, 150], "labelExpr": "datum.value == 0 || datum.value == 100 ? datum.label : ''", "tickSize": 3}},
       "y": {"field": "lo", "type": "quantitative", "scale": {"domain": [0, 1]},
             "axis": {"values": [0, 0.5, 1], "format": "~g", "tickSize": 3}},
       "y2": {"field": "hi"},
       "detail": {"field": "g"}}},
     {"transform": [{"filter": "datum.g === 'H'"}],
      "mark": {"type": "line", "strokeWidth": 4},
      "encoding": {"x": {"field": "t", "type": "quantitative"}, "y": {"field": "s", "type": "quantitative"},
       "color": {"field": "g", "type": "nominal", "scale": {"domain": ["L", "H"], "range": ["#1212c8", "#40e0e0"]},
        "legend": {"orient": "none", "legendX": 484, "legendY": 673, "title": null, "padding": 0,
         "symbolType": "M-1,-0.1L1,-0.1L1,0.1L-1,0.1Z", "symbolSize": 4900, "symbolStrokeWidth": 1, "symbolStrokeColor": "#222",
         "labelOffset": 31, "labelFontSize": 21, "labelFont": "Liberation Serif", "labelColor": "black", "labelLimit": 400, "clipHeight": 26, "rowPadding": 14,
         "labelExpr": "datum.label == 'L' ? 'Low expression group (L)' : 'High expression group (H)'",
         "encode": {"symbols": {"update": {"fill": {"scale": "color", "field": "value"}, "fillOpacity": {"value": 1}, "stroke": {"value": "#222"}}}}}}}},
     {"transform": [{"filter": "datum.g === 'L'"}],
      "mark": {"type": "line", "strokeWidth": 4},
      "encoding": {"x": {"field": "t", "type": "quantitative"}, "y": {"field": "s", "type": "quantitative"},
       "color": {"field": "g", "type": "nominal"}}},
     {"transform": [{"filter": "isValid(datum.lp)"}],
      "mark": {"type": "text", "align": "left", "baseline": "middle", "fontSize": 17, "color": "black"},
      "encoding": {"x": {"datum": 80, "type": "quantitative"}, "y": {"datum": 0.88, "type": "quantitative"}, "text": {"field": "lp"}}},
     {"transform": [{"filter": "isValid(datum.nh)"}],
      "mark": {"type": "text", "align": "left", "baseline": "alphabetic", "fontSize": 17, "color": "black"},
      "encoding": {"x": {"datum": 12, "type": "quantitative"}, "y": {"datum": 0.17, "type": "quantitative"}, "text": {"field": "nh"}}},
     {"transform": [{"filter": "isValid(datum.nl)"}],
      "mark": {"type": "text", "align": "left", "baseline": "alphabetic", "fontSize": 17, "color": "black"},
      "encoding": {"x": {"datum": 12, "type": "quantitative"}, "y": {"datum": 0.01, "type": "quantitative"}, "text": {"field": "nl"}}},
     {"transform": [{"filter": "isValid(datum.med)"}],
      "mark": {"type": "text", "align": "left", "baseline": "middle", "fontSize": 19, "color": "black"},
      "encoding": {"x": {"field": "med", "type": "quantitative"}, "y": {"datum": 0.5, "type": "quantitative"}, "text": {"field": "med"}}}
    ]}}
 ], "spacing": 0},
 {"width": 1229, "height": 40, "view": {"stroke": null},
  "data": {"values": [{"lab": "Time (Months)"}]},
  "layer": [
   {"mark": {"type": "text", "fontSize": 30, "align": "center", "baseline": "middle", "color": "black"},
    "encoding": {"x": {"datum": 0.134, "type": "quantitative", "scale": {"domain": [0, 1]}, "axis": null},
                 "y": {"datum": 0.35, "type": "quantitative", "scale": {"domain": [0, 1]}, "axis": null},
                 "text": {"field": "lab"}}},
   {"mark": {"type": "rule", "color": "black", "strokeWidth": 1.5},
    "encoding": {"x": {"datum": 0.259, "type": "quantitative"}, "x2": {"datum": 0.994}, "y": {"datum": 0.3, "type": "quantitative"}}},
   {"mark": {"type": "point", "shape": "M-1,-1L0,0L-1,1", "filled": false, "color": "black", "strokeWidth": 1.5, "size": 300, "opacity": 1},
    "encoding": {"x": {"datum": 0.994, "type": "quantitative"}, "y": {"datum": 0.3, "type": "quantitative"}}}
  ]}
],
"spacing": 0
}
